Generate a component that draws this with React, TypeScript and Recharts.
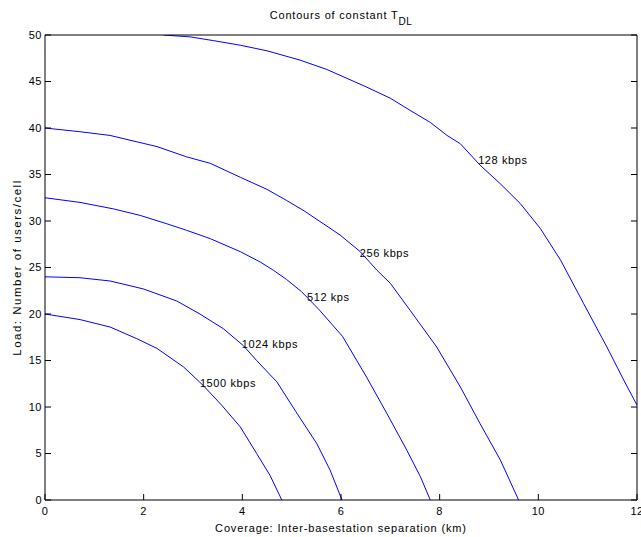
import React from 'react';
import { LineChart, Line, XAxis, YAxis, ReferenceDot, Label } from 'recharts';

const xTicks = [0, 2, 4, 6, 8, 10, 12];
const yTicks = [0, 5, 10, 15, 20, 25, 30, 35, 40, 45, 50];

const curve1500 = [
  { x: 0, y: 20 }, { x: 0.71, y: 19.4 }, { x: 1.32, y: 18.6 }, { x: 1.86, y: 17.35 },
  { x: 2.27, y: 16.3 }, { x: 2.81, y: 14.3 }, { x: 3.21, y: 12.3 }, { x: 3.58, y: 10.2 },
  { x: 3.96, y: 7.85 }, { x: 4.29, y: 5.0 }, { x: 4.56, y: 2.66 }, { x: 4.8, y: 0 },
];

const curve1024 = [
  { x: 0, y: 24 }, { x: 0.71, y: 23.9 }, { x: 1.32, y: 23.55 }, { x: 1.99, y: 22.7 },
  { x: 2.67, y: 21.4 }, { x: 3.14, y: 20.0 }, { x: 3.62, y: 18.4 }, { x: 4.02, y: 16.6 },
  { x: 4.29, y: 15.0 }, { x: 4.7, y: 12.7 }, { x: 5.11, y: 9.3 }, { x: 5.51, y: 6.06 },
  { x: 5.78, y: 3.2 }, { x: 6.02, y: 0 },
];

const curve512 = [
  { x: 0, y: 32.5 }, { x: 0.71, y: 32.0 }, { x: 1.39, y: 31.3 }, { x: 1.93, y: 30.6 },
  { x: 2.47, y: 29.7 }, { x: 2.87, y: 29.0 }, { x: 3.35, y: 28.1 }, { x: 3.96, y: 26.7 },
  { x: 4.36, y: 25.6 }, { x: 4.63, y: 24.7 }, { x: 4.9, y: 23.7 }, { x: 5.2, y: 22.4 },
  { x: 5.55, y: 20.5 }, { x: 6.03, y: 17.6 }, { x: 6.52, y: 13.2 }, { x: 6.93, y: 9.3 },
  { x: 7.34, y: 5.3 }, { x: 7.61, y: 2.5 }, { x: 7.81, y: 0 },
];

const curve256 = [
  { x: 0, y: 40 }, { x: 0.71, y: 39.6 }, { x: 1.32, y: 39.2 }, { x: 2.27, y: 38.0 },
  { x: 2.87, y: 36.9 }, { x: 3.35, y: 36.2 }, { x: 3.96, y: 34.7 }, { x: 4.5, y: 33.4 },
  { x: 4.9, y: 32.2 }, { x: 5.25, y: 31.1 }, { x: 5.98, y: 28.5 }, { x: 6.39, y: 26.7 },
  { x: 6.73, y: 24.7 }, { x: 7.0, y: 23.3 }, { x: 7.4, y: 20.4 }, { x: 7.94, y: 16.45 },
  { x: 8.42, y: 12.15 }, { x: 8.82, y: 8.2 }, { x: 9.23, y: 4.3 }, { x: 9.6, y: 0 },
];

const curve128 = [
  { x: 2.4, y: 50 }, { x: 2.94, y: 49.8 }, { x: 3.41, y: 49.4 }, { x: 3.96, y: 48.9 },
  { x: 4.5, y: 48.3 }, { x: 5.17, y: 47.3 }, { x: 5.71, y: 46.3 }, { x: 6.52, y: 44.4 },
  { x: 7.0, y: 43.2 }, { x: 7.4, y: 41.9 }, { x: 7.81, y: 40.6 }, { x: 8.15, y: 39.2 },
  { x: 8.42, y: 38.3 }, { x: 8.82, y: 36.0 }, { x: 9.23, y: 34.0 }, { x: 9.63, y: 31.9 },
  { x: 10.04, y: 29.2 }, { x: 10.45, y: 25.8 }, { x: 10.6, y: 24.3 }, { x: 10.92, y: 21.1 },
  { x: 11.39, y: 16.45 }, { x: 11.73, y: 12.9 }, { x: 12.0, y: 10.2 },
];

const curves = [curve128, curve256, curve512, curve1024, curve1500];

const contourLabels = [
  { x: 8.78, y: 36.5, text: '128 kbps' },
  { x: 6.38, y: 26.5, text: '256 kbps' },
  { x: 5.31, y: 21.8, text: '512 kps' },
  { x: 3.99, y: 16.8, text: '1024 kbps' },
  { x: 3.14, y: 12.6, text: '1500 kbps' },
];

const FONT = '"Liberation Sans", Arial, Helvetica, sans-serif';
const TICK_LEN = 6;
const LEFT_GAP = 3;
const BOTTOM_GAP = 7;

const LeftTick = (props: any) => {
  const { x, y, payload } = props;
  const edge = x + LEFT_GAP;
  return (
    <g>
      <line x1={edge} x2={edge + TICK_LEN} y1={y} y2={y} stroke="#000" strokeWidth={1} />
      <text x={x} y={y} dy="0.36em" textAnchor="end" fill="#000" fontSize={11} fontFamily={FONT} letterSpacing={0.5}>
        {payload.value}
      </text>
    </g>
  );
};

const BottomTick = (props: any) => {
  const { x, y, payload } = props;
  const edge = y - BOTTOM_GAP;
  return (
    <g>
      <line x1={x} x2={x} y1={edge} y2={edge - TICK_LEN} stroke="#000" strokeWidth={1} />
      <text x={x} y={y} dy="0.72em" textAnchor="middle" fill="#000" fontSize={11} fontFamily={FONT} letterSpacing={0.5}>
        {payload.value}
      </text>
    </g>
  );
};

const TopTick = (props: any) => {
  const { x, y } = props;
  return <line x1={x} x2={x} y1={y} y2={y + TICK_LEN} stroke="#000" strokeWidth={1} />;
};

const RightTick = (props: any) => {
  const { x, y } = props;
  return <line x1={x} x2={x - TICK_LEN} y1={y} y2={y} stroke="#000" strokeWidth={1} />;
};

export default function App() {
  return (
    <div style={{ position: 'absolute', left: 0, top: 0, width: 641, height: 537, background: '#fff', fontFamily: FONT }}>
      <div
        style={{
          position: 'absolute',
          left: 45,
          width: 592,
          top: 10,
          textAlign: 'center',
          fontSize: 11,
          lineHeight: '11px',
          letterSpacing: 0.8,
          color: '#000',
          whiteSpace: 'nowrap',
        }}
      >
        Contours of constant T
        <span style={{ fontSize: 10, position: 'relative', top: 6, letterSpacing: 0.5 }}>DL</span>
      </div>
      <LineChart width={641} height={537} margin={{ top: 34, right: 3, bottom: 0, left: 0 }}>
        <XAxis
          xAxisId={0}
          dataKey="x"
          type="number"
          domain={[0, 12]}
          ticks={xTicks}
          interval={0}
          allowDataOverflow
          height={37}
          tickSize={0}
          tickMargin={BOTTOM_GAP}
          tick={<BottomTick />}
          tickLine={false}
          axisLine={{ stroke: '#000' }}
        >
          <Label
            value="Coverage: Inter-basestation separation (km)"
            position="insideBottom"
            offset={5}
            style={{ fill: '#000', fontSize: 11, fontFamily: FONT, letterSpacing: 0.85 }}
          />
        </XAxis>
        <XAxis
          xAxisId="top"
          orientation="top"
          type="number"
          domain={[0, 12]}
          ticks={xTicks}
          interval={0}
          allowDataOverflow
          height={1}
          tickSize={0}
          tickMargin={0}
          tick={<TopTick />}
          tickLine={false}
          axisLine={{ stroke: '#000' }}
        />
        <YAxis
          yAxisId={0}
          type="number"
          domain={[0, 50]}
          ticks={yTicks}
          interval={0}
          allowDataOverflow
          width={45}
          tickSize={0}
          tickMargin={LEFT_GAP}
          tick={<LeftTick />}
          tickLine={false}
          axisLine={{ stroke: '#000' }}
        >
          <Label
            value="Load: Number of users/cell"
            angle={-90}
            position="insideLeft"
            offset={17}
            style={{ fill: '#000', fontSize: 11.5, fontFamily: FONT, letterSpacing: 1.5, textAnchor: 'middle' }}
          />
        </YAxis>
        <YAxis
          yAxisId="right"
          orientation="right"
          type="number"
          domain={[0, 50]}
          ticks={yTicks}
          interval={0}
          allowDataOverflow
          width={1}
          tickSize={0}
          tickMargin={0}
          tick={<RightTick />}
          tickLine={false}
          axisLine={{ stroke: '#000' }}
        />
        {curves.map((c, i) => (
          <Line
            key={i}
            data={c}
            dataKey="y"
            xAxisId={0}
            yAxisId={0}
            type="linear"
            stroke="#0000ff"
            strokeWidth={1}
            dot={false}
            activeDot={false}
            isAnimationActive={false}
          />
        ))}
        {contourLabels.map((l, i) => (
          <ReferenceDot
            key={'l' + i}
            x={l.x}
            y={l.y}
            xAxisId={0}
            yAxisId={0}
            r={0}
            fill="none"
            stroke="none"
            label={{ value: l.text, position: 'right', offset: 0, fill: '#000', fontSize: 11, fontFamily: FONT, letterSpacing: 0.6 }}
          />
        ))}
      </LineChart>
    </div>
  );
}
